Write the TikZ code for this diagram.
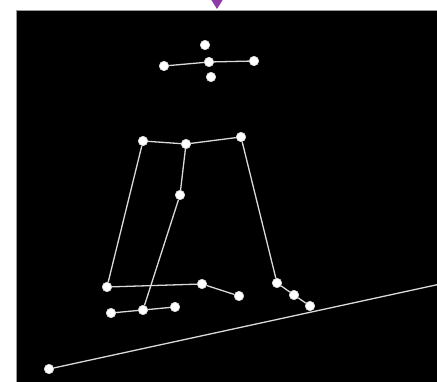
\documentclass[tikz,border=0pt]{standalone}
\usepackage{tikz}
\usetikzlibrary{arrows.meta}
\definecolor{bone}{HTML}{DADADA}
\definecolor{frame}{HTML}{9A9A9A}
\definecolor{pointer}{HTML}{8E3BA8}
\tikzset{
  joint/.style={circle, fill=white, draw=white!85!black, line width=0.6pt,
                inner sep=0pt, minimum size=9.5pt},
  limb/.style={draw=bone, line width=1.3pt},
}

\begin{document}
\begin{tikzpicture}[x=1pt, y=-1pt]
  \useasboundingbox (0,0) rectangle (437,382);
  \clip (0,0) rectangle (437,382);
  % screen
  \fill[black] (16,10) rectangle (440,385);
  \draw[frame, line width=0.8pt] (16,385) -- (16,10) -- (440,10);
  \coordinate (tipfrom) at (217,-10);
  \coordinate (tipto) at (217,9);
  \draw[pointer, line width=1.2pt, -{Triangle[length=9pt,width=11pt]}] (tipfrom) -- (tipto);
  % head
  \node[joint] (hl) at (164,66) {};
  \node[joint] (hc) at (209,62) {};
  \node[joint] (hr) at (254,61) {};
  \node[joint] (ht) at (205,45) {};
  \node[joint] (hb) at (211,77) {};
  % shoulders and spine
  \node[joint] (sl) at (143,141) {};
  \node[joint] (sc) at (186,144) {};
  \node[joint] (sr) at (241,137) {};
  \node[joint] (mid) at (180,195) {};
  % lower joints
  \node[joint] (al) at (107,287) {};
  \node[joint] (am) at (202,284) {};
  \node[joint] (ae) at (239,296) {};
  \node[joint] (bl) at (111,313) {};
  \node[joint] (bm) at (143,310) {};
  \node[joint] (be) at (175,307) {};
  \node[joint] (ra) at (277,283) {};
  \node[joint] (rb) at (294,295) {};
  \node[joint] (rc) at (310,306) {};
  % floor
  \node[joint] (fl) at (49,369) {};
  \coordinate (fr) at (445,283);
  \draw[limb] (hl) -- (hc) -- (hr);
  \draw[limb] (sl) -- (sc) -- (sr);
  \draw[limb] (sl) -- (al) -- (am) -- (ae);
  \draw[limb] (sc) -- (mid) -- (bm);
  \draw[limb] (bl) -- (bm) -- (be);
  \draw[limb] (sr) -- (ra) -- (rb) -- (rc);
  \draw[limb] (fl) -- (fr);
\end{tikzpicture}
\end{document}
